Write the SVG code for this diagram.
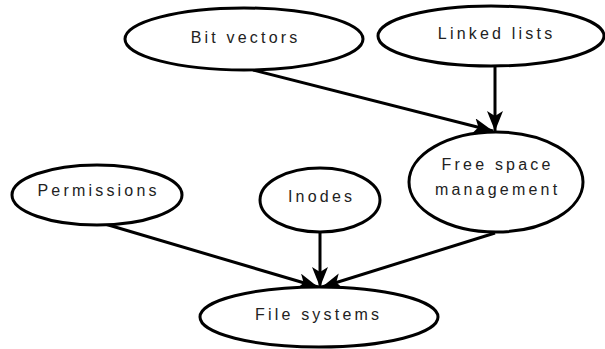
<svg xmlns="http://www.w3.org/2000/svg" width="605" height="349" viewBox="0 0 605 349">
<style>
.n ellipse{fill:#fff;stroke:#000;stroke-width:3}
.n text{font-family:"Liberation Sans",Arial,sans-serif;font-size:16px;letter-spacing:3.2px;text-anchor:middle;fill:#222}
.e line{stroke:#000;stroke-width:3;marker-end:url(#ah)}
</style>
<defs>
<marker id="ah" viewBox="0 0 20 16" refX="20" refY="8" markerWidth="20" markerHeight="16" markerUnits="userSpaceOnUse" orient="auto">
<path d="M0,0 L20,8 L0,16 L5,8 Z" fill="#000"/>
</marker>
</defs>
<g class="e">
<line x1="253" y1="70" x2="493" y2="131"/>
<line x1="495" y1="66" x2="495" y2="131"/>
<line x1="105" y1="224" x2="318" y2="287"/>
<line x1="320" y1="232" x2="320" y2="287"/>
<line x1="495" y1="233" x2="322" y2="287"/>
</g>
<g id="bitvectors" class="n"><ellipse cx="244" cy="39" rx="119" ry="31"/><text x="245.6" y="43">Bit vectors</text></g>
<g id="linkedlists" class="n"><ellipse cx="491" cy="36" rx="113" ry="30"/><text x="496.6" y="39">Linked lists</text></g>
<g id="freespace" class="n"><ellipse cx="496" cy="182" rx="87" ry="50"/><text x="497.6" y="170">Free space</text><text x="497.6" y="195">management</text></g>
<g id="permissions" class="n"><ellipse cx="97" cy="195" rx="85" ry="30"/><text x="98.6" y="196">Permissions</text></g>
<g id="inodes" class="n"><ellipse cx="320" cy="200" rx="60" ry="32"/><text x="321.6" y="202">Inodes</text></g>
<g id="filesystems" class="n"><ellipse cx="319" cy="317" rx="119" ry="30"/><text x="318.6" y="320">File systems</text></g>
</svg>
